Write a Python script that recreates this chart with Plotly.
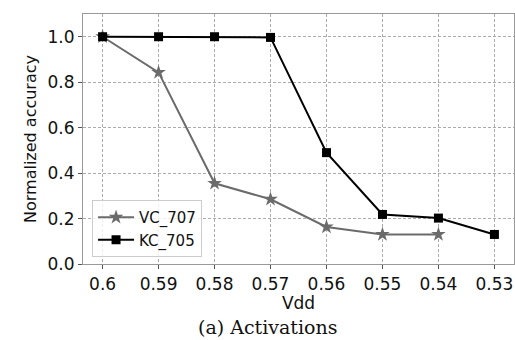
import plotly.graph_objects as go

x_labels = ["0.6", "0.59", "0.58", "0.57", "0.56", "0.55", "0.54", "0.53"]
vc_707 = [1.0, 0.843, 0.355, 0.285, 0.163, 0.13, 0.13]
kc_705 = [1.0, 1.0, 1.0, 0.997, 0.49, 0.218, 0.202, 0.13]

xi_vc = list(range(len(vc_707)))
xi_kc = list(range(len(kc_705)))

fig = go.Figure()
fig.add_trace(go.Scatter(
    x=xi_vc, y=vc_707, name="VC_707", mode="lines+markers",
    line=dict(color="#6b6b6b", width=2),
    marker=dict(symbol="star", size=11, color="#6b6b6b"),
))
fig.add_trace(go.Scatter(
    x=xi_kc, y=kc_705, name="KC_705", mode="lines+markers",
    line=dict(color="#000000", width=2),
    marker=dict(symbol="square", size=9, color="#000000"),
))

font_main = dict(family="DejaVu Sans", size=17, color="#111111")

fig.update_layout(
    width=515, height=340,
    margin=dict(l=83, r=1, t=14, b=76),
    paper_bgcolor="white", plot_bgcolor="white",
    font=font_main,
    showlegend=True,
    legend=dict(
        x=0.021, y=0.028, xanchor="left", yanchor="bottom",
        bgcolor="rgba(255,255,255,0.8)", bordercolor="#cccccc", borderwidth=1,
        font=dict(family="DejaVu Sans", size=15, color="#111111"),
        itemwidth=36, tracegroupgap=0,
    ),
    xaxis=dict(
        range=[-0.35, 7.35], tickmode="array",
        tickvals=list(range(len(x_labels))), ticktext=x_labels,
        showgrid=True, gridcolor="#ababab", griddash="3px,2px", gridwidth=1,
        showline=True, linecolor="#999999", linewidth=1.2, mirror=True,
        ticks="outside", ticklen=4, tickcolor="#555555",
        zeroline=False,
        title=dict(text="Vdd", font=font_main, standoff=2),
    ),
    yaxis=dict(
        range=[0, 1.1], tickmode="array",
        tickvals=[0, 0.2, 0.4, 0.6, 0.8, 1.0],
        ticktext=["0.0", "0.2", "0.4", "0.6", "0.8", "1.0"],
        showgrid=True, gridcolor="#ababab", griddash="3px,2px", gridwidth=1,
        showline=True, linecolor="#999999", linewidth=1.2, mirror=True,
        ticks="outside", ticklen=4, tickcolor="#555555",
        zeroline=False,
        title=dict(text="Normalized accuracy", font=dict(family="DejaVu Sans", size=16, color="#111111"), standoff=6),
    ),
    annotations=[dict(
        text="(a) Activations", xref="paper", yref="paper",
        x=0.429, y=-0.2, xanchor="center", yanchor="top", showarrow=False,
        font=dict(family="DejaVu Serif", size=19, color="#111111"),
    )],
)

fig.write_html("out.html", config={"displayModeBar": False},
               post_script="document.body.style.margin='0';document.body.style.overflow='hidden';")
